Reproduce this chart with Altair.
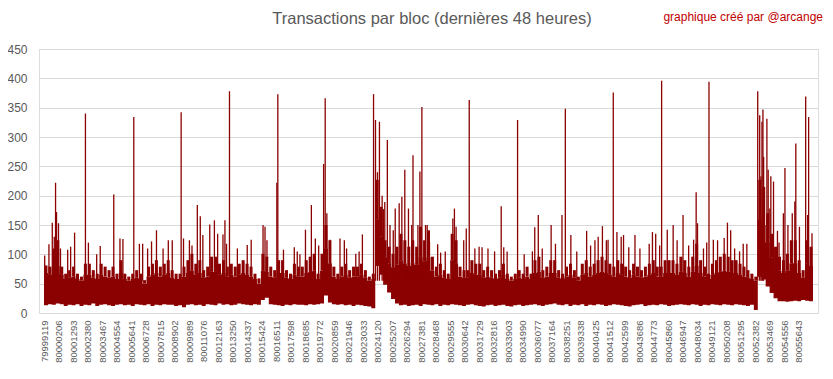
import altair as alt
import pandas as pd

FIRST_BLOCK = 79999119
LAST_BLOCK = 80056719  # 48 h of 3 s blocks

tick_blocks = [79999119, 80000206, 80001293, 80002380, 80003467, 80004554, 80005641, 80006728,
               80007815, 80008902, 80009989, 80011076, 80012163, 80013250, 80014337, 80015424,
               80016511, 80017598, 80018685, 80019772, 80020859, 80021946, 80023033, 80024120,
               80025207, 80026294, 80027381, 80028468, 80029555, 80030642, 80031729, 80032816,
               80033903, 80034990, 80036077, 80037164, 80038251, 80039338, 80040425, 80041512,
               80042599, 80043686, 80044773, 80045860, 80046947, 80048034, 80049121, 80050208,
               80051295, 80052382, 80053469, 80054556, 80055643]
y_ticks = [0, 50, 100, 150, 200, 250, 300, 350, 400, 450]

# dense body of the series, per bin of ~295 blocks: ragged top, solid core, bottom
body_hi = [81, 79, 110, 124, 79, 67, 73, 79, 67, 62, 84, 84, 73, 67, 84, 79, 73, 79, 67, 90, 67, 62, 67, 73, 67, 56, 79, 84, 90, 79, 84, 90,
           73, 67, 67, 79, 90, 101, 84, 90, 73, 79, 96, 96, 84, 90, 79, 84, 79, 84, 90, 84, 79, 67, 59, 101, 96, 79, 73, 90, 90, 73, 67, 84, 79,
           79, 90, 96, 101, 67, 101, 150, 124, 79, 67, 79, 84, 73, 79, 79, 84, 73, 62, 67, 227, 181, 124, 113, 101, 113, 135, 124, 113, 124, 113, 147, 124,
           141, 96, 79, 84, 73, 67, 135, 124, 79, 73, 73, 90, 84, 84, 73, 79, 73, 67, 73, 84, 67, 62, 67, 73, 67, 79, 67, 90, 96, 73, 79, 90, 90,
           73, 67, 79, 84, 73, 62, 84, 90, 79, 84, 90, 96, 90, 84, 79, 90, 84, 79, 73, 84, 79, 73, 79, 84, 90, 79, 79, 90, 90, 90, 84, 96,
           90, 79, 96, 118, 90, 79, 67, 84, 90, 96, 101, 96, 90, 90, 84, 79, 73, 67, 62, 227, 215, 170, 135, 113, 96, 90, 101, 124, 124, 90, 73, 124, 113]

body_core = [68, 65, 75, 80, 65, 58, 60, 62, 58, 55, 65, 65, 60, 58, 65, 62, 60, 62, 58, 68, 58, 55, 58, 60, 58, 50, 62, 65, 68, 62, 65, 68,
             60, 58, 58, 62, 68, 72, 65, 68, 60, 62, 70, 70, 65, 68, 62, 65, 62, 65, 68, 65, 62, 58, 50, 72, 70, 62, 60, 68, 68, 60, 58, 65, 62,
             62, 68, 70, 72, 58, 72, 110, 85, 62, 58, 62, 65, 60, 62, 62, 65, 60, 55, 58, 160, 130, 95, 85, 78, 82, 90, 85, 80, 85, 82, 95, 88,
             95, 72, 62, 65, 60, 58, 90, 85, 62, 60, 60, 68, 65, 65, 60, 62, 60, 58, 60, 65, 58, 55, 58, 60, 58, 62, 58, 68, 70, 60, 62, 68, 68,
             60, 58, 62, 65, 60, 55, 65, 68, 62, 65, 68, 70, 68, 65, 62, 68, 65, 62, 60, 65, 62, 60, 62, 65, 68, 62, 62, 68, 68, 68, 65, 70,
             68, 62, 70, 80, 68, 62, 58, 65, 68, 70, 72, 70, 68, 68, 65, 62, 60, 58, 55, 160, 150, 120, 95, 80, 72, 68, 72, 85, 85, 68, 60, 85, 80]

body_lo = [13, 15, 14, 16, 15, 12, 14, 13, 15, 12, 14, 13, 16, 12, 14, 15, 13, 12, 14, 15, 13, 14, 12, 15, 14, 13, 15, 12, 14, 13, 15, 14,
           14, 12, 13, 10, 14, 15, 13, 14, 12, 15, 14, 13, 16, 14, 15, 13, 14, 16, 15, 14, 13, 15, 14, 22, 26, 15, 14, 13, 12, 14, 13, 15, 14,
           14, 13, 15, 14, 15, 16, 30, 18, 15, 14, 15, 13, 14, 12, 14, 13, 12, 11, 8, 80, 65, 48, 35, 24, 16, 13, 14, 12, 13, 14, 12, 15,
           14, 13, 15, 12, 14, 13, 15, 14, 13, 12, 14, 15, 13, 12, 11, 13, 14, 12, 13, 14, 12, 11, 13, 14, 12, 13, 14, 15, 13, 12, 14, 15, 16,
           14, 13, 15, 12, 14, 13, 15, 12, 14, 13, 15, 14, 12, 13, 15, 14, 13, 12, 11, 13, 14, 15, 12, 13, 14, 13, 15, 14, 12, 13, 14, 15,
           14, 13, 15, 14, 12, 14, 13, 15, 14, 13, 15, 14, 13, 15, 14, 13, 12, 14, 5, 62, 57, 45, 34, 25, 20, 20, 19, 20, 21, 20, 22, 21, 20]

# isolated peaks (block number, transactions)
spike_block = [79999171, 79999489, 79999740, 79999888, 79999984, 80000058, 80000205, 80000353, 80000893, 80001114,
               80001410, 80002223, 80002445, 80003065, 80003331, 80004344, 80004809, 80005031, 80005844, 80006265,
               80006509, 80006879, 80007174, 80007544, 80008039, 80008430,
               80008726, 80009391, 80009568, 80010012, 80010204, 80010603, 80010825, 80011017, 80011534, 80011882,
               80012125, 80012524, 80012672, 80012791, 80013012, 80013603, 80014342, 80014638, 80015525, 80015673,
               80015820, 80016559, 80016633, 80017055, 80017867, 80018089,
               80018289, 80018703, 80019146, 80019442, 80019693, 80020062, 80020181, 80020306, 80020550, 80021289,
               80021614, 80021784, 80022471, 80022723, 80022967, 80023802, 80023949, 80024097, 80024245, 80024445,
               80024541, 80024644, 80024836, 80025036, 80025280, 80025427, 80025723, 80025923, 80026144, 80026418,
               80026662, 80026758, 80027127, 80027275, 80027423, 80027696,
               80027822, 80027992, 80028605, 80028827, 80029174, 80029743, 80029861, 80029987, 80030556, 80030748,
               80030970, 80031391, 80031709, 80031931, 80032374, 80032869, 80033364, 80033556, 80033808, 80034591,
               80035086, 80035700, 80035877, 80036143, 80036439, 80037104, 80037429,
               80037917, 80038168, 80038582, 80039025, 80039764, 80040060, 80040385, 80040629, 80040946, 80041242,
               80041368, 80041759, 80042033, 80042351, 80042528, 80042920, 80043385, 80043755, 80044449, 80044693,
               80044937, 80045233, 80045380, 80045802, 80046245, 80046541, 80046984,
               80047405, 80047775, 80047967, 80048070, 80048514, 80048758, 80048928, 80049253, 80049571, 80050066,
               80050310, 80050553, 80050849, 80051219, 80051492, 80051765, 80052578, 80052726, 80052822, 80052896,
               80052970, 80053022, 80053266, 80053362, 80053487, 80053561, 80053761, 80054056, 80054175, 80054500,
               80054618, 80054840, 80055165, 80055357, 80055431, 80055704, 80056170, 80056318, 80056392, 80056643]

spike_value = [98, 117, 154, 130, 222, 172, 153, 110, 108, 113,
               137, 340, 120, 100, 114, 202, 127, 126, 334, 118,
               118, 110, 122, 141, 110, 124,
               124, 342, 127, 124, 115, 184, 165, 133, 151, 158,
               135, 134, 158, 118, 378, 110, 116, 125, 150, 147,
               124, 222, 373, 108, 112, 105,
               100, 142, 184, 127, 115, 254, 366, 170, 125, 127,
               124, 110, 101, 105, 134, 373, 329, 240, 326, 200,
               177, 189, 295, 150, 141, 178, 187, 198, 244, 178,
               150, 269, 150, 241, 351, 150,
               150, 121, 117, 103, 105, 161, 178, 147, 124, 144,
               363, 110, 113, 112, 110, 105, 182, 112, 105, 329,
               100, 105, 146, 167, 110, 150, 118,
               167, 348, 133, 105, 140, 115, 124, 130, 148, 124,
               125, 376, 138, 130, 133, 112, 133, 110, 118, 138,
               135, 115, 396, 142, 150, 124, 167,
               115, 125, 206, 153, 110, 120, 394, 125, 124, 128,
               154, 141, 110, 105, 118, 118, 378, 337, 233, 326,
               347, 266, 331, 244, 178, 233, 224, 140, 120, 170,
               247, 150, 170, 190, 289, 147, 369, 167, 334, 136]

TITLE = "Transactions par bloc (dernières 48 heures)"
CREDIT = "graphique créé par @arcange"
RED = "#8B0000"
GREY = "#595959"
GRID = "#D9D9D9"

n = len(body_hi)
step = (LAST_BLOCK - FIRST_BLOCK) / n
starts = [FIRST_BLOCK + i * step for i in range(n)]
core = pd.DataFrame({
    "block": starts + [LAST_BLOCK],
    "core": body_core + [body_core[-1]],
    "lo": body_lo + [body_lo[-1]],
})
comb = pd.DataFrame({
    "block": [s + step / 2 for s in starts],
    "hi": body_hi,
    "core": body_core,
})
spikes = pd.DataFrame({"block": spike_block, "value": spike_value, "base": [55] * len(spike_block)})

xscale = alt.Scale(domain=[FIRST_BLOCK, LAST_BLOCK], nice=False, zero=False)
yscale = alt.Scale(domain=[0, 450], nice=False)

xaxis = alt.Axis(values=tick_blocks, format="d", labelAngle=270, labelFontSize=9.5,
                 labelColor=GREY, labelFont="Liberation Sans", labelPadding=7, ticks=False,
                 domain=True, domainColor=GRID, grid=False, labelOverlap=False, labelFlush=False,
                 title=None)
yaxis = alt.Axis(values=y_ticks, labelFontSize=12, labelColor=GREY,
                 labelFont="Liberation Sans", labelPadding=12, ticks=False, domain=False,
                 grid=True, gridColor=GRID, labelOverlap=False, labelFlush=False, title=None)

X = lambda: alt.X("block:Q", scale=xscale, axis=xaxis)

area = alt.Chart(core).mark_area(color=RED, interpolate="step-after").encode(
    x=X(), y=alt.Y("core:Q", scale=yscale, axis=yaxis), y2="lo:Q",
)

teeth = alt.Chart(comb).mark_bar(color=RED, size=3).encode(
    x=X(), y=alt.Y("hi:Q", scale=yscale, axis=yaxis), y2="core:Q",
)

rules = alt.Chart(spikes).mark_rule(color=RED, strokeWidth=1.3).encode(
    x=X(), y=alt.Y("value:Q", scale=yscale, axis=yaxis), y2="base:Q",
)

title = alt.Chart(pd.DataFrame({"t": [TITLE]})).mark_text(
    font="Liberation Sans", fontSize=16.5, color=GREY, align="center", baseline="middle"
).encode(text="t:N", x=alt.value(393), y=alt.value(-30))

credit = alt.Chart(pd.DataFrame({"t": [CREDIT]})).mark_text(
    font="Liberation Sans", fontSize=12, color="#C00000", align="right", baseline="middle"
).encode(text="t:N", x=alt.value(784), y=alt.value(-32))

border = alt.Chart(pd.DataFrame({"t": [0]})).mark_rect(
    fill=None, stroke=GRID, strokeWidth=1
).encode(x=alt.value(-37.5), x2=alt.value(789.5), y=alt.value(-47.5), y2=alt.value(326.5))

chart = alt.layer(area, teeth, rules, title, credit, border).properties(
    width=779, height=264,
    autosize=alt.AutoSizeParams(type="none"),
    padding={"left": 31, "top": 41, "right": 6, "bottom": 50},
).configure_view(stroke=None).configure(background="white")

chart.save("out.html", embed_options={"renderer": "svg", "actions": False})
